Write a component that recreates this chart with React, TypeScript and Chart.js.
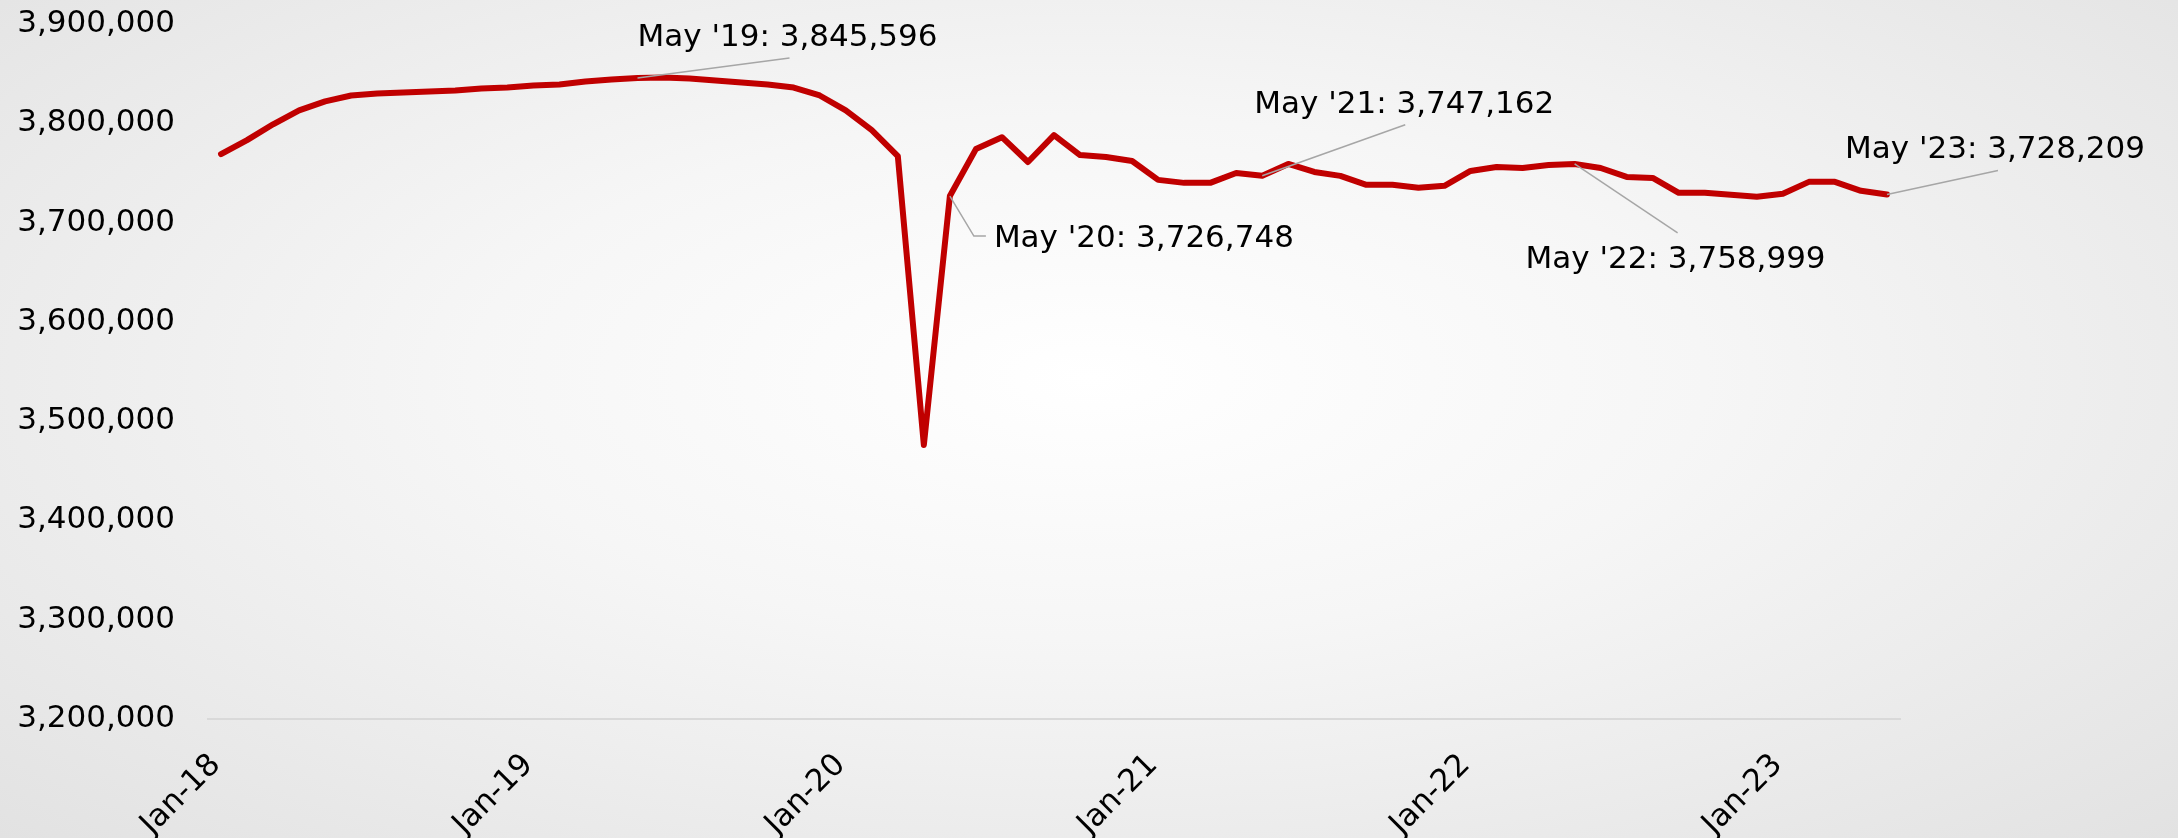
import React, { useEffect, useRef } from "react";
import { Chart, registerables } from "chart.js";

Chart.register(...registerables);

const MONTHS = ["Jan", "Feb", "Mar", "Apr", "May", "Jun", "Jul", "Aug", "Sep", "Oct", "Nov", "Dec"];
const YEARS = ["18", "19", "20", "21", "22", "23"];
const LAST_MONTH_OF_2023 = 5; // data run through May-23

const categories: string[] = [];
YEARS.forEach((yy, yi) => {
  MONTHS.forEach((m, mi) => {
    if (yi === YEARS.length - 1 && mi >= LAST_MONTH_OF_2023) return;
    categories.push(`${m}-${yy}`);
  });
});

const employment = [
  3769000, 3783000, 3799000, 3813000, 3822000, 3828000, 3830000, 3831000, 3832000, 3833000, 3835000, 3836000,
  3838000, 3839000, 3842000, 3844000, 3845596, 3846000, 3845000, 3843000, 3841000, 3839000, 3836000, 3828000,
  3813000, 3793000, 3767000, 3476000, 3726748, 3774000, 3786000, 3761000, 3788000, 3768000, 3766000, 3762000,
  3743000, 3740000, 3740000, 3750000, 3747162, 3759000, 3751000, 3747000, 3738000, 3738000, 3735000, 3737000,
  3752000, 3756000, 3755000, 3758000, 3758999, 3755000, 3746000, 3745000, 3730000, 3730000, 3728000, 3726000,
  3729000, 3741000, 3741000, 3732000, 3728209,
];

const Y_MIN = 3200000;
const Y_MAX = 3900000;
const Y_STEP = 100000;

const annotatedIndices = [16, 28, 40, 52, 64];

// label placement (relative to the data point): text start/baseline, leader path points
const annotationLayout = [
  { tx: 0, ty: -32, path: [[152, -20]] },
  { tx: 44, ty: 51, path: [[24, 40], [36, 40]] },
  { tx: -8, ty: -63, path: [[143, -51]] },
  { tx: -49, ty: 104, path: [[103, 69]] },
  { tx: -42, ty: -37, path: [[111, -24]] },
];

const FONT = "'DejaVu Sans', sans-serif";
const fmt = (v: number) => Math.round(v).toLocaleString("en-US");

const annotationPlugin = {
  id: "mayAnnotations",
  afterDatasetsDraw(chart: any) {
    const { ctx, scales } = chart;
    const xs = scales.x;
    const ys = scales.y;
    ctx.save();
    annotatedIndices.forEach((idx, k) => {
      const lay = annotationLayout[k];
      const px = xs.getPixelForValue(idx);
      const py = ys.getPixelForValue(employment[idx]);
      ctx.beginPath();
      ctx.strokeStyle = "#a6a6a6";
      ctx.lineWidth = 1.5;
      ctx.moveTo(px, py);
      lay.path.forEach(([dx, dy]) => ctx.lineTo(px + dx, py + dy));
      ctx.stroke();
      const [mon, yy] = categories[idx].split("-");
      const text = `${mon} '${yy}: ${fmt(employment[idx])}`;
      ctx.fillStyle = "#000000";
      ctx.font = `31px ${FONT}`;
      ctx.textAlign = "left";
      ctx.textBaseline = "alphabetic";
      ctx.fillText(text, px + lay.tx, py + lay.ty);
    });
    ctx.restore();
  },
};

export default function App() {
  const canvasRef = useRef<HTMLCanvasElement | null>(null);

  useEffect(() => {
    if (!canvasRef.current) return;
    const chart = new Chart(canvasRef.current, {
      type: "line",
      data: {
        labels: categories,
        datasets: [
          {
            data: employment,
            borderColor: "#c00000",
            borderWidth: 6,
            pointRadius: 0,
            pointHoverRadius: 0,
            tension: 0,
            fill: false,
            borderJoinStyle: "round",
            borderCapStyle: "round",
          },
        ],
      },
      options: {
        animation: false,
        responsive: false,
        events: [],
        layout: { padding: { left: 0, right: 278, top: 24, bottom: 0 } },
        plugins: {
          legend: { display: false },
          tooltip: { enabled: false },
          title: { display: false },
        },
        scales: {
          x: {
            type: "category",
            offset: true,
            grid: { display: false, drawTicks: false, tickLength: 0 },
            border: { display: true, color: "#d9d9d9", width: 2 },
            afterFit: (s: any) => {
              s.height = 119;
              s.paddingLeft = 0;
              s.paddingRight = 0;
            },
            ticks: {
              autoSkip: false,
              maxRotation: 45,
              minRotation: 45,
              padding: 28,
              labelOffset: -5,
              color: "#000000",
              font: { family: FONT, size: 31 },
              callback: (_v: any, i: number) => (i % 12 === 0 ? categories[i] : null),
            },
          },
          y: {
            min: Y_MIN,
            max: Y_MAX,
            grid: { display: false, drawTicks: false, tickLength: 0 },
            border: { display: false },
            afterFit: (s: any) => {
              s.width = 208;
              s.paddingTop = 0;
              s.paddingBottom = 0;
            },
            ticks: {
              stepSize: Y_STEP,
              padding: 33,
              color: "#000000",
              font: { family: FONT, size: 31 },
              callback: (v: any) => fmt(Number(v)),
            },
          },
        },
      },
      plugins: [annotationPlugin],
    });
    return () => chart.destroy();
  }, []);

  return (
    <div
      style={{
        position: "absolute",
        left: 0,
        top: 0,
        width: 2178,
        height: 838,
        overflow: "hidden",
        background: "radial-gradient(ellipse farthest-corner at 50% 45%, #ffffff 0%, #f6f6f6 40%, #e2e2e2 100%)",
      }}
    >
      <canvas ref={canvasRef} width={2178} height={838} style={{ display: "block" }} />
    </div>
  );
}
